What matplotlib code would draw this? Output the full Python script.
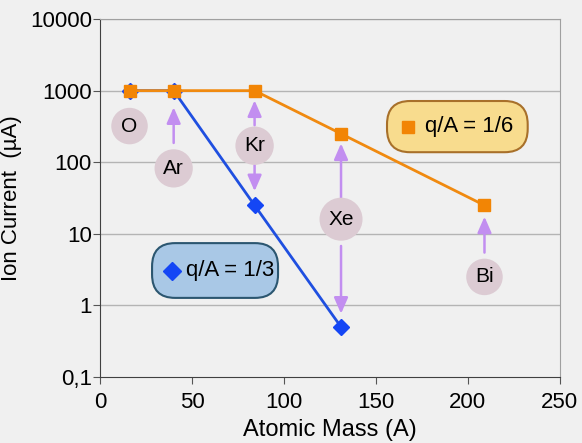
import matplotlib
matplotlib.use("Agg")
from matplotlib import pyplot as plt
from matplotlib.patches import FancyBboxPatch

plt.rcParams['font.family'] = ['Liberation Sans', 'DejaVu Sans']

# data
elements = ['O', 'Ar', 'Kr', 'Xe', 'Bi']
mass_16 = [16, 40, 84, 131, 209]          # q/A = 1/6
curr_16 = [1000, 1000, 1000, 250, 25]
mass_13 = [16, 40, 84, 131]               # q/A = 1/3
curr_13 = [1000, 1000, 25, 0.5]

yticks = [0.1, 1, 10, 100, 1000, 10000]
ylabels = ['0,1', '1', '10', '100', '1000', '10000']
xticks = [0, 50, 100, 150, 200, 250]

# label bubbles (x, y) and arrows (x, y_from, y_to)
bubbles = {'O': (16, 320), 'Ar': (40, 82), 'Kr': (84, 170), 'Xe': (131, 16), 'Bi': (209, 2.5)}
arrows = [(40, 170, 640), (84, 300, 800), (84, 100, 36),
          (131, 29, 200), (131, 7.4, 0.7), (209, 5, 19)]

bg = '#f0f0f0'
fig = plt.figure(figsize=(5.82, 4.43), dpi=100, facecolor=bg)
ax = fig.add_axes([0.172, 0.149, 0.79, 0.808], facecolor=bg)
ax.set_yscale('log')
ax.set_ylim(0.1, 10000)
ax.set_xlim(0, 250)

for y in yticks[1:]:
    ax.axhline(y, color='#b4b4b4', lw=1, zorder=1)

ax.plot(mass_13, curr_13, color='#1f4fe0', lw=2, marker='D', ms=8,
        mfc='#1446f5', mec='#1446f5', zorder=3)
ax.plot(mass_16, curr_16, color='#f08a10', lw=2, marker='s', ms=9,
        mfc='#f28505', mec='#f28505', zorder=4)

for x, y0, y1 in arrows:
    ax.annotate('', xy=(x, y1), xytext=(x, y0),
                arrowprops=dict(arrowstyle='-|>,head_length=0.8,head_width=0.35',
                                color='#c28ef0', lw=1.8, mutation_scale=12), zorder=2)

for name in elements:
    bx, by = bubbles[name]
    ax.text(bx, by, name, fontsize=15, ha='center', va='center', zorder=5,
            bbox=dict(boxstyle='circle,pad=0.42', fc='#dccbd3', ec='none'))

# legend boxes, axes fraction
boxes = [((0.624, 0.628), 0.306, 0.143, '#f8dc8e', '#a8702a', 's', '#f28505', 'q/A = 1/6', 0.046, 0.083),
         ((0.113, 0.221), 0.274, 0.153, '#a9c8e6', '#2b5670', 'D', '#1446f5', 'q/A = 1/3', 0.043, 0.074)]
for (bx, by), w, h, fc, ec, mk, mc, lab, mdx, tdx in boxes:
    ax.add_patch(FancyBboxPatch((bx, by), w, h, boxstyle='round,pad=0,rounding_size=0.05',
                                transform=ax.transAxes, fc=fc, ec=ec, lw=1.5, zorder=6,
                                mutation_aspect=1.3))
    ax.plot(bx + mdx, by + h / 2, marker=mk, color=mc, ms=9, transform=ax.transAxes, zorder=7)
    ax.text(bx + tdx, by + h / 2, lab, fontsize=16, ha='left', va='center',
            transform=ax.transAxes, zorder=7)

ax.set_yticks(yticks)
ax.set_yticklabels(ylabels)
ax.minorticks_off()
ax.set_xticks(xticks)
ax.tick_params(labelsize=16, color='#555555', length=5)
ax.tick_params(axis='y', pad=1)
ax.tick_params(axis='x', pad=6)
for s in ['top', 'right']:
    ax.spines[s].set_color('#a0a0a0')
for s in ['left', 'bottom']:
    ax.spines[s].set_color('#404040')
ax.set_xlabel('Atomic Mass (A)', fontsize=17, labelpad=4)
ax.set_ylabel(u'Ion Current  (\u00b5A)', fontsize=16)
ax.yaxis.set_label_coords(-0.17, 0.5)

fig.savefig('out.png', dpi=100, facecolor=bg)
